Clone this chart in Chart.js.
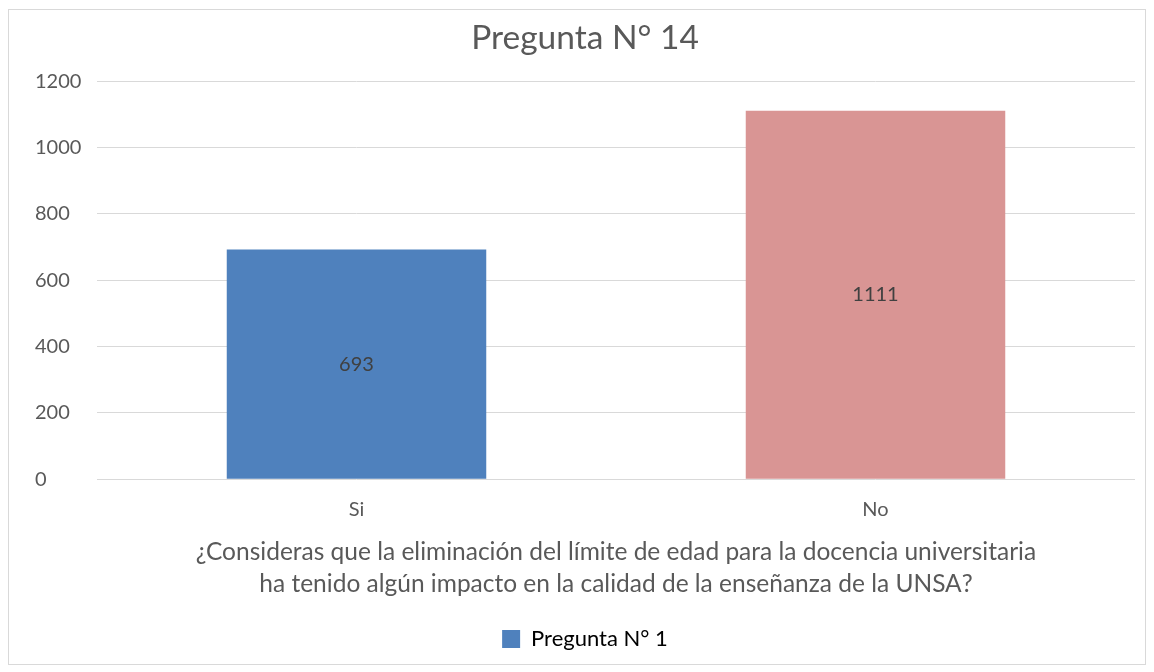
<!DOCTYPE html>
<html>
<head>
<meta charset="utf-8">
<script src="https://cdn.jsdelivr.net/npm/chart.js@4/dist/chart.umd.min.js"></script>
<style>
  body { margin: 0; background: #fff; }
  #box { position: absolute; left: 8px; top: 9px; width: 1136px; height: 654px; border: 1px solid #d9d9d9; }
</style>
</head>
<body>
<div id="box"><canvas id="chart" width="1136" height="654"></canvas></div>
<script>
const categories = ['Si', 'No'];
const values = [693, 1111];
const barColors = ['#4f81bd', '#d99594'];
const yTicks = [0, 200, 400, 600, 800, 1000, 1200];
const seriesName = 'Pregunta N° 1';
const chartTitle = 'Pregunta N° 14';
const axisTitle = [
  '¿Consideras que la eliminación del límite de edad para la docencia universitaria',
  'ha tenido algún impacto en la calidad de la enseñanza de la UNSA?'
];

const FONT = 'Lato, Carlito, Calibri, sans-serif';

// values written in the middle of each bar
const centerLabels = {
  id: 'centerLabels',
  afterDatasetsDraw(chart) {
    const ctx = chart.ctx;
    const meta = chart.getDatasetMeta(0);
    ctx.save();
    ctx.font = '20px ' + FONT;
    ctx.fillStyle = '#404040';
    ctx.textAlign = 'center';
    ctx.textBaseline = 'middle';
    meta.data.forEach((bar, i) => {
      const mid = (bar.y + bar.base) / 2;
      ctx.fillText(values[i], bar.x, mid);
    });
    ctx.restore();
  }
};

new Chart(document.getElementById('chart'), {
  type: 'bar',
  data: {
    labels: categories,
    datasets: [{
      label: seriesName,
      data: values,
      backgroundColor: barColors,
      categoryPercentage: 0.5,
      barPercentage: 1.0
    }]
  },
  plugins: [centerLabels],
  options: {
    responsive: false,
    animation: false,
    layout: { padding: { top: 8, right: 10, bottom: 4, left: 26 } },
    plugins: {
      title: {
        display: true,
        text: chartTitle,
        color: '#595959',
        font: { family: FONT, size: 33.5, weight: 'normal' },
        padding: { top: 0, bottom: 23 }
      },
      legend: {
        position: 'bottom',
        labels: {
          color: '#595959',
          font: { family: FONT, size: 22 },
          boxWidth: 18,
          boxHeight: 18,
          padding: 10,
          generateLabels: () => [{
            text: seriesName,
            fillStyle: barColors[0],
            strokeStyle: barColors[0],
            lineWidth: 0,
            datasetIndex: 0
          }]
        }
      },
      tooltip: { enabled: false }
    },
    scales: {
      x: {
        grid: { display: false },
        border: { display: false },
        ticks: { color: '#595959', font: { family: FONT, size: 20 }, padding: 10 },
        title: {
          display: true,
          text: axisTitle,
          color: '#595959',
          font: { family: FONT, size: 24.5, lineHeight: 1.3 },
          padding: { top: 5, bottom: 18 }
        }
      },
      y: {
        min: 0,
        max: 1200,
        afterBuildTicks: (scale) => { scale.ticks = yTicks.map(v => ({ value: v })); },
        afterFit: (scale) => { scale.width = 62; },
        grid: { color: '#d9d9d9', lineWidth: 1, drawTicks: false },
        border: { display: false },
        ticks: {
          color: '#595959',
          font: { family: FONT, size: 20 },
          crossAlign: 'far',
          callback: (v) => String(v)
        }
      }
    }
  }
});
</script>
</body>
</html>
